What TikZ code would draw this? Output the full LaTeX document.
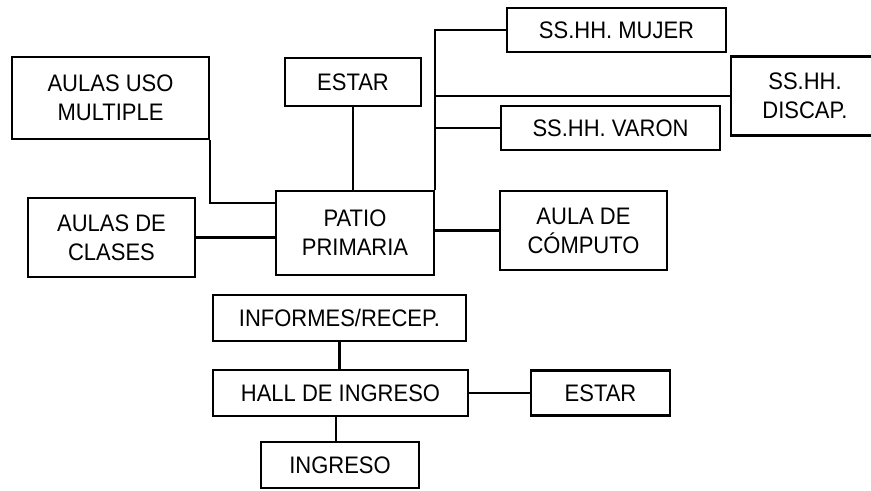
\documentclass[tikz,border=0pt]{standalone}
\usepackage{fontspec}
\setmainfont[FakeStretch=0.92]{Liberation Sans}
\usetikzlibrary{positioning,calc}
\tikzset{
  espacio/.style={draw=black,line width=1.2pt,align=center,inner sep=0pt,
                  font=\fontsize{13.6}{16.5}\selectfont},
  enlace/.style={draw=black,line width=1.2pt}
}

\begin{document}
\begin{tikzpicture}[x=0.02cm,y=-0.02cm]
  % ---------- page ----------
  \useasboundingbox (0,0) rectangle (871,490);
  \clip (0,0) rectangle (871,490);
  % ---------- zona primaria ----------
  \node[espacio,minimum width=197*0.02cm,minimum height=82*0.02cm] (usos) at (110.5,98){AULAS USO\\MULTIPLE};
  \node[espacio,minimum width=136*0.02cm,minimum height=48*0.02cm] (estarp) at (353,82){ESTAR};
  \node[espacio,minimum width=158*0.02cm,minimum height=84*0.02cm] (patio) at (355,233){PATIO\\PRIMARIA};
  \node[espacio,minimum width=167*0.02cm,minimum height=79*0.02cm] (clases) at (111.5,237.5){AULAS DE\\CLASES};
  \node[espacio,minimum width=219*0.02cm,minimum height=44*0.02cm] (mujer) at (616.5,30){SS.HH. MUJER};
  \node[espacio,minimum width=148*0.02cm,minimum height=79*0.02cm] (discap) at (805,96){SS.HH.\\DISCAP.};
  \node[espacio,minimum width=219*0.02cm,minimum height=44*0.02cm] (varon) at (610.5,128){SS.HH. VARON};
  \node[espacio,minimum width=167*0.02cm,minimum height=79*0.02cm] (computo) at (583.5,230.5){AULA DE\\CÓMPUTO};
  % ---------- ingreso ----------
  \node[espacio,minimum width=253*0.02cm,minimum height=46*0.02cm] (informes) at (339.5,318){INFORMES/RECEP.};
  \node[espacio,minimum width=255*0.02cm,minimum height=46*0.02cm] (hall) at (340.5,393){HALL DE INGRESO};
  \node[espacio,minimum width=139*0.02cm,minimum height=45*0.02cm] (estarh) at (600.5,393){ESTAR};
  \node[espacio,minimum width=158*0.02cm,minimum height=46*0.02cm] (ingreso) at (340,465){INGRESO};
  % ---------- enlaces ----------
  \draw[enlace] (usos.south east) |- ($(patio.north west)!0.15!(patio.south west)$);
  \draw[enlace] (clases.east) -- (clases.east -| patio.west);
  \draw[enlace] (estarp.south) -- (estarp.south |- patio.north);
  \draw[enlace] (patio.north east) |- (mujer.west);
  \draw[enlace] (patio.north east |- discap.west) -- (discap.west);
  \draw[enlace] (patio.north east |- varon.west) -- (varon.west);
  \draw[enlace] (computo.west -| patio.east) -- (computo.west);
  \draw[enlace] (informes.south) -- (informes.south |- hall.north);
  \draw[enlace] (hall.east) -- (estarh.west);
  \draw[enlace] (ingreso.north -| 336,0) -- (hall.south -| 336,0);
\end{tikzpicture}
\end{document}
